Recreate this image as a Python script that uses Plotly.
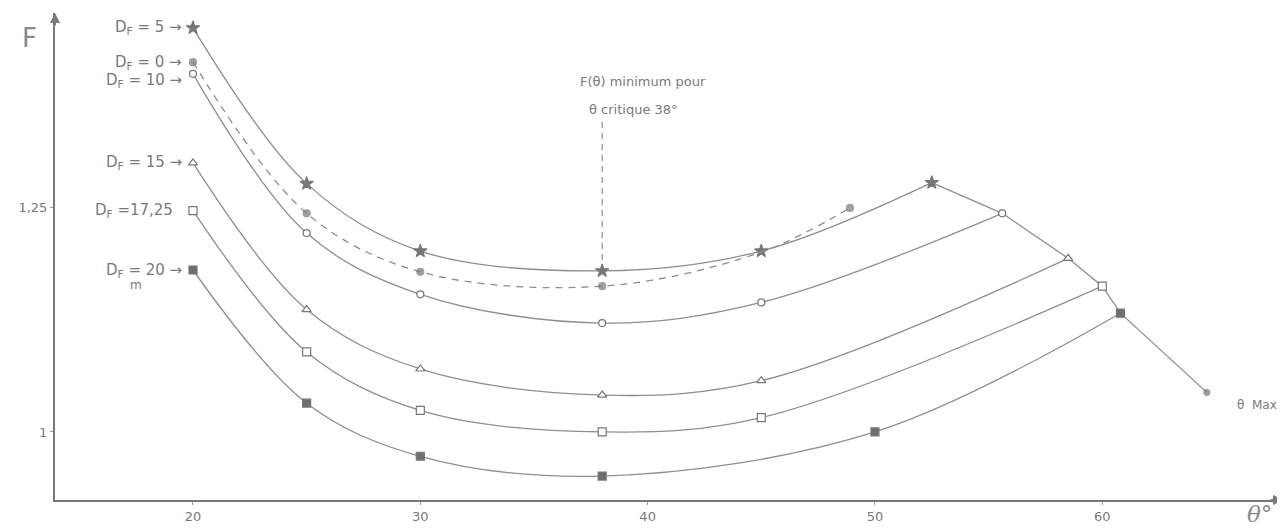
import plotly.graph_objects as go

# ---- data ----
theta_df5 = [20, 25, 30, 38, 45, 52.5]
F_df5 = [1.449, 1.276, 1.201, 1.179, 1.201, 1.277]

theta_df0 = [20, 25, 30, 38, 45, 48.9]
F_df0 = [1.411, 1.243, 1.178, 1.162, 1.200, 1.249]
marker_df0 = [7, 7, 7, 7, 0, 7]

theta_df10 = [20, 25, 30, 38, 45, 55.6]
F_df10 = [1.398, 1.221, 1.153, 1.121, 1.144, 1.243]

theta_df15 = [20, 25, 30, 38, 45, 58.5]
F_df15 = [1.299, 1.136, 1.070, 1.041, 1.057, 1.193]

theta_df1725 = [20, 25, 30, 38, 45, 60]
F_df1725 = [1.246, 1.089, 1.024, 1.000, 1.016, 1.162]

theta_df20 = [20, 25, 30, 38, 50, 60.8]
F_df20 = [1.180, 1.032, 0.973, 0.951, 1.000, 1.132]

theta_max_line = [52.5, 55.6, 58.5, 60, 60.8, 64.6]
F_max_line = [1.277, 1.243, 1.193, 1.162, 1.132, 1.044]

theta_crit = 38
F_crit_low = 1.179
F_crit_high = 1.347

x_ticks = [20, 30, 40, 50, 60]
y_ticks = [1, 1.25]
y_ticktext = ["1", "1,25"]

labels = ["D<sub>F</sub> = 5 →", "D<sub>F</sub> = 0 →", "D<sub>F</sub> = 10 →",
          "D<sub>F</sub> = 15 →", "D<sub>F</sub> =17,25", "D<sub>F</sub> = 20 →"]
label_F = [1.449, 1.411, 1.391, 1.299, 1.246, 1.180]

X_RANGE = [13.93, 67.95]
Y_RANGE = [0.9244, 1.4656]

LINE = "#8e8e8e"
MARK = "#777777"
TXT = "#7a7a7a"
FONT = "DejaVu Sans, sans-serif"

fig = go.Figure()

def curve(x, y, symbol, size, fill, dash="solid", shape="spline"):
    fig.add_trace(go.Scatter(
        x=x, y=y, mode="lines+markers",
        line=dict(color=LINE, width=1.3, dash=dash, shape=shape, smoothing=1.0),
        marker=dict(symbol=symbol, size=size, color=fill,
                    line=dict(color=MARK, width=1.2)),
        showlegend=False, hoverinfo="skip", cliponaxis=False))

# theta max envelope
curve(theta_max_line, F_max_line, "circle", [0, 0, 0, 0, 0, 6], MARK, shape="linear")
# critical theta marker line
fig.add_trace(go.Scatter(x=[theta_crit, theta_crit], y=[F_crit_low, F_crit_high],
                         mode="lines", line=dict(color=LINE, width=1.2, dash="6px,5px"),
                         showlegend=False, hoverinfo="skip"))

curve(theta_df5, F_df5, "star", 10, MARK)
curve(theta_df0, F_df0, "circle", marker_df0, MARK, dash="7px,6px")
curve(theta_df10, F_df10, "circle", 7, "white")
curve(theta_df15, F_df15, "triangle-up", 8, "white")
curve(theta_df1725, F_df1725, "square", 8, "white")
curve(theta_df20, F_df20, "square", 8, "#6e6e6e")

ann = []
for t, f in zip(labels, label_F):
    xr = 19.2 if "17,25" in t else 19.6
    ann.append(dict(x=xr, y=f, xref="x", yref="y", text=t, showarrow=False,
                    xanchor="right", yanchor="middle",
                    font=dict(family=FONT, size=15, color=TXT)))
ann.append(dict(x=17.5, y=1.163, xref="x", yref="y", text="m", showarrow=False,
                font=dict(family=FONT, size=12, color=TXT)))
ann.append(dict(x=39.8, y=1.389, xref="x", yref="y", text="F(θ) minimum pour",
                showarrow=False, font=dict(family=FONT, size=13, color=TXT)))
ann.append(dict(x=39.4, y=1.358, xref="x", yref="y", text="θ critique 38°",
                showarrow=False, font=dict(family=FONT, size=13, color=TXT)))
ann.append(dict(x=65.85, y=1.030, xref="x", yref="y", text="θ  Max", xanchor="left",
                showarrow=False, font=dict(family=FONT, size=12, color=TXT)))
ann.append(dict(x=-0.0204, y=0.9487, xref="paper", yref="paper", text="F",
                showarrow=False, xanchor="center", yanchor="middle",
                font=dict(family=FONT, size=26, color="#8a8a8a")))
ann.append(dict(x=0.981, y=-0.028, xref="paper", yref="paper", text="<i>θ</i>°",
                showarrow=False, xanchor="center", yanchor="middle",
                font=dict(family="DejaVu Serif, serif", size=23, color="#8a8a8a")))
# axis arrowheads
ann.append(dict(x=0, y=1, xref="paper", yref="paper", ax=0, ay=14,
                showarrow=True, arrowhead=2, arrowsize=1, arrowwidth=2,
                arrowcolor="#7a7a7a", text=""))
ann.append(dict(x=1, y=0, xref="paper", yref="paper", ax=-14, ay=0,
                showarrow=True, arrowhead=2, arrowsize=1, arrowwidth=2,
                arrowcolor="#7a7a7a", text=""))

# page body adds an 8px offset; the figure is sized to fit the window
fig.update_layout(
    width=1277, height=520,
    margin=dict(l=47, r=2, t=5, b=28, autoexpand=False),
    paper_bgcolor="white", plot_bgcolor="white",
    annotations=ann,
    xaxis=dict(range=X_RANGE, showgrid=False, zeroline=False, showline=True,
               automargin=False,
               linecolor="#7a7a7a", linewidth=2, tickvals=x_ticks,
               ticks="outside", ticklen=3, tickcolor="#9a9a9a",
               tickfont=dict(family=FONT, size=13, color=TXT)),
    yaxis=dict(range=Y_RANGE, showgrid=False, zeroline=False, showline=True,
               automargin=False,
               linecolor="#7a7a7a", linewidth=2, tickvals=y_ticks,
               ticktext=y_ticktext, ticks="outside", ticklen=3,
               tickcolor="#9a9a9a",
               tickfont=dict(family=FONT, size=13, color=TXT)),
)

fig.write_html("out.html")
